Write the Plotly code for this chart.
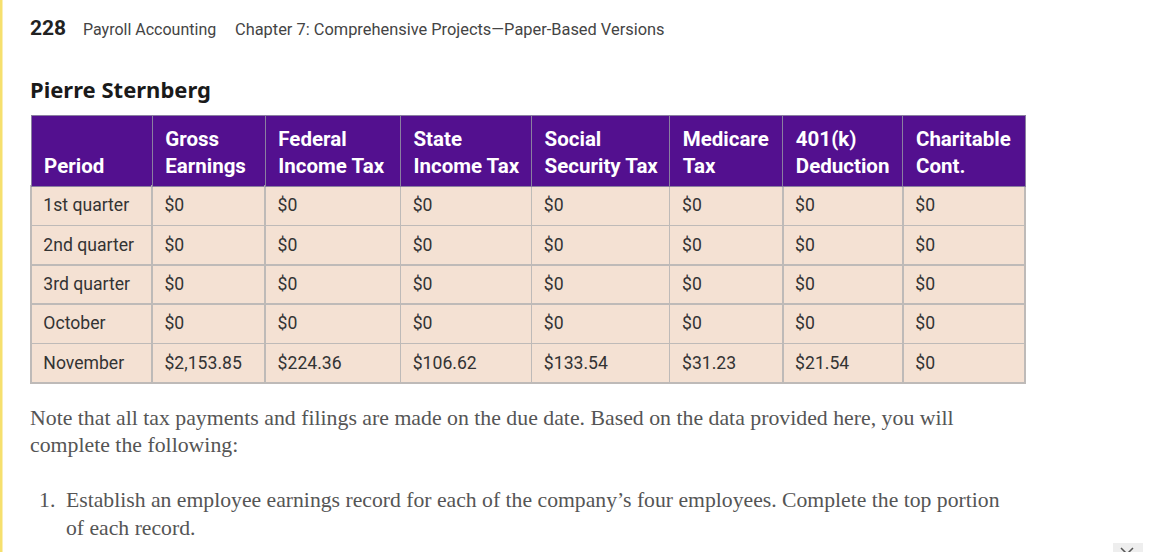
import plotly.graph_objects as go

W, H = 1156, 552

# ---- data ----
periods = ["1st quarter", "2nd quarter", "3rd quarter", "October", "November"]
gross = [0, 0, 0, 0, 2153.85]
federal = [0, 0, 0, 0, 224.36]
state = [0, 0, 0, 0, 106.62]
social = [0, 0, 0, 0, 133.54]
medicare = [0, 0, 0, 0, 31.23]
k401 = [0, 0, 0, 0, 21.54]
charitable = [0, 0, 0, 0, 0]

headers = ["Period", "Gross<br>Earnings", "Federal<br>Income Tax", "State<br>Income Tax",
           "Social<br>Security Tax", "Medicare<br>Tax", "401(k)<br>Deduction", "Charitable<br>Cont."]
col_widths = [121, 113, 135, 131, 138, 113, 120, 122]

page_number = "228"
book = "Payroll Accounting"
chapter = "Chapter 7: Comprehensive Projects\u2014Paper-Based Versions"
employee = "Pierre Sternberg"
note_lines = ["Note that all tax payments and filings are made on the due date. Based on the data provided here, you will",
              "complete the following:"]
item_lines = ["Establish an employee earnings record for each of the company\u2019s four employees. Complete the top portion",
              "of each record."]


def money(v):
    if v == 0:
        return "$0"
    return "${:,.2f}".format(v)


def px(x):
    return x / W


def py(y):
    return 1 - y / H


pad = "\u00a0"

header_vals = []
for h in headers:
    parts = h.split("<br>")
    if len(parts) == 1:
        parts = [pad] + parts
    header_vals.append("<br>".join("<b>" + pad + p + "</b>" for p in parts))

columns = [periods, gross, federal, state, social, medicare, k401, charitable]
cell_vals = [[pad + p for p in periods]] + [[pad + money(v) for v in col] for col in columns[1:]]
blank_header = ["" for _ in headers]
blank_cells = [["" for _ in periods] for _ in columns]

purple = "#53108F"
peach = "#F4E1D3"
border = "#BEBAB8"
clear = "rgba(0,0,0,0)"

TOP, BOTTOM = 115, 386
SHIFT = 4  # text sits a little lower inside its cells than plotly's fixed padding

fig = go.Figure()
# cell fills and rules
fig.add_trace(go.Table(
    domain=dict(x=[px(31), px(1025)], y=[py(BOTTOM), py(TOP)]),
    columnwidth=col_widths,
    header=dict(values=blank_header, fill_color=purple, line=dict(color="#8A7FA0", width=1),
                height=71),
    cells=dict(values=blank_cells, fill_color=peach, line=dict(color=border, width=1.5),
               height=39.4),
))
# cell texts
fig.add_trace(go.Table(
    domain=dict(x=[px(31), px(1025)], y=[py(BOTTOM + SHIFT), py(TOP + SHIFT)]),
    columnwidth=col_widths,
    header=dict(values=header_vals, fill_color=clear, line=dict(color=clear, width=0),
                align="left", height=71,
                font=dict(family="Roboto", size=20.5, color="white")),
    cells=dict(values=cell_vals, fill_color=clear, line=dict(color=clear, width=0),
               align="left", height=39.4,
               font=dict(family="Roboto", size=17.6, color="#333333")),
))

ann = []
ann.append(dict(x=px(29), y=py(28), text="<b>" + page_number + "</b>", font=dict(family="Roboto", size=21, color="#222")))
ann.append(dict(x=px(82), y=py(29), text=book, font=dict(family="Roboto", size=16, color="#444")))
ann.append(dict(x=px(234), y=py(29), text=chapter, font=dict(family="Roboto", size=16.4, color="#444")))
ann.append(dict(x=px(29), y=py(89), text="<b>" + employee + "</b>", font=dict(family="Noto Sans", size=22, color="#1a1a1a")))
for i, t in enumerate(note_lines):
    ann.append(dict(x=px(29), y=py(418 + 27 * i), text=t, font=dict(family="Liberation Serif", size=21.8, color="#555")))
ann.append(dict(x=px(38), y=py(500), text="1.", font=dict(family="Liberation Serif", size=21.8, color="#555")))
for i, t in enumerate(item_lines):
    ann.append(dict(x=px(65), y=py(500 + 28 * i), text=t, font=dict(family="Liberation Serif", size=21.7, color="#555")))

for a in ann:
    a.setdefault("xanchor", "left")
    a.update(xref="paper", yref="paper", yanchor="middle", showarrow=False, borderpad=0)
fig.update_layout(annotations=ann)

fig.update_layout(
    width=W, height=H, margin=dict(l=0, r=0, t=0, b=0),
    paper_bgcolor="white", plot_bgcolor="white",
    shapes=[
        dict(type="rect", xref="paper", yref="paper", x0=0, x1=px(2.5), y0=0, y1=1,
             fillcolor="#F6E06E", line=dict(width=0)),
        dict(type="rect", xref="paper", yref="paper", x0=px(1113), x1=px(1143), y0=0, y1=py(543),
             fillcolor="#EEEEEE", line=dict(width=0), layer="below"),
        dict(type="path", xref="paper", yref="paper",
             path="M %f,%f L %f,%f L %f,%f" % (px(1121), py(548), px(1127), py(554), px(1133), py(548)),
             line=dict(color="#555", width=1.5)),
    ],
)

fig.write_html("out.html", config={"displayModeBar": False},
               post_script="document.body.style.margin='0';document.body.style.padding='0';")
